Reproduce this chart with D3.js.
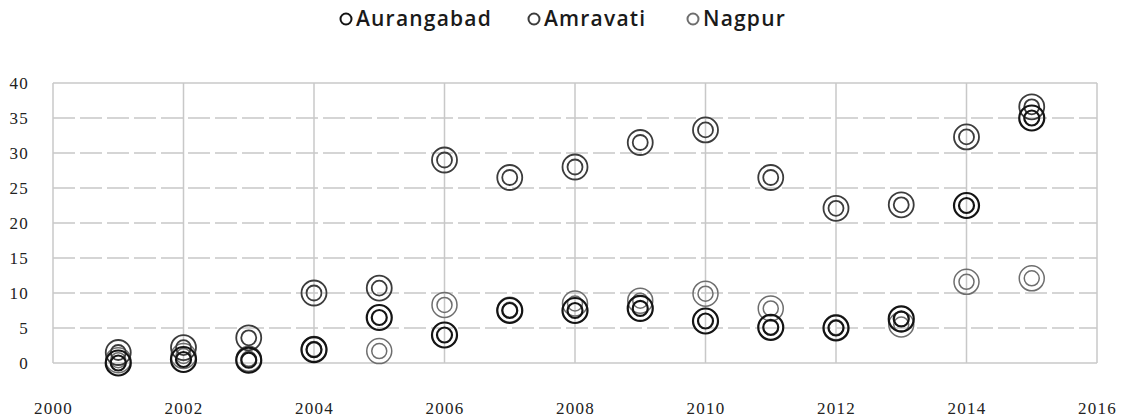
<!DOCTYPE html>
<html><head><meta charset="utf-8">
<script src="https://cdn.jsdelivr.net/npm/d3@7"></script>
<style>body{margin:0;background:#fff}</style>
</head><body><svg id="c" width="1135" height="418"></svg>
<script>
const years = [2001,2002,2003,2004,2005,2006,2007,2008,2009,2010,2011,2012,2013,2014,2015];
const seriesNames = ["Aurangabad","Amravati","Nagpur"];
const aurangabad = [0,0.5,0.4,1.9,6.5,4.0,7.5,7.5,7.8,6.0,5.1,5.0,6.3,22.5,35.0];
const amravati   = [1.5,2.2,3.6,10.0,10.7,29.0,26.5,28.0,31.5,33.3,26.5,22.1,22.6,32.3,36.6];
const nagpur     = [0.4,1.0,0.6,2.0,1.7,8.3,7.6,8.5,8.9,9.9,7.8,5.1,5.5,11.6,12.1];
const xTicks = [2000,2002,2004,2006,2008,2010,2012,2014,2016];
const yTicks = [0,5,10,15,20,25,30,35,40];

const colors = {Aurangabad:"#141414", Amravati:"#3c3c3c", Nagpur:"#6e6e6e"};
const widths = {Aurangabad:2.2, Amravati:1.8, Nagpur:1.5};
const data = {Aurangabad:aurangabad, Amravati:amravati, Nagpur:nagpur};

const svg = d3.select("#c");
const x = d3.scaleLinear().domain([2000,2016]).range([53,1097]);
const y = d3.scaleLinear().domain([0,40]).range([363,83]);
const grid = "#c8c8c8";

// horizontal gridlines
svg.append("g").selectAll("line").data(yTicks.filter(v=>v>0 && v<40)).join("line")
  .attr("x1",x(2000)).attr("x2",x(2016)).attr("y1",d=>y(d)).attr("y2",d=>y(d))
  .attr("stroke",grid).attr("stroke-width",1.5).attr("stroke-dasharray","22,5");
svg.append("line").attr("x1",x(2000)).attr("x2",x(2016)).attr("y1",y(40)).attr("y2",y(40))
  .attr("stroke",grid).attr("stroke-width",1.5);
// vertical gridlines
svg.append("g").selectAll("line").data(xTicks).join("line")
  .attr("x1",d=>x(d)).attr("x2",d=>x(d)).attr("y1",y(40)).attr("y2",y(0))
  .attr("stroke",grid).attr("stroke-width",1.5);
svg.append("line").attr("x1",x(2000)).attr("x2",x(2016)).attr("y1",y(0)).attr("y2",y(0))
  .attr("stroke",grid).attr("stroke-width",1.5);

// axes labels
const xAxis = d3.axisBottom(x).tickValues(xTicks).tickFormat(d3.format("d")).tickSize(0).tickPadding(51);
const gx = svg.append("g").attr("transform",`translate(0,${y(0)})`).call(xAxis);
gx.select(".domain").remove();
gx.selectAll("text").attr("font-family","Liberation Serif").attr("font-size",17)
  .attr("letter-spacing",1.2).attr("fill","#222").attr("dy","0");
const yAxis = d3.axisLeft(y).tickValues(yTicks).tickSize(0).tickPadding(24);
const gy = svg.append("g").attr("transform",`translate(${x(2000)},0)`).call(yAxis);
gy.select(".domain").remove();
gy.selectAll("text").attr("font-family","Liberation Serif").attr("font-size",17)
  .attr("letter-spacing",1.2).attr("fill","#222");

// markers
seriesNames.slice().reverse().forEach(name=>{
  const g = svg.append("g");
  const pts = years.map((yr,i)=>({yr, v:data[name][i]}));
  [12.5,7.5].forEach(r=>{
    g.selectAll(null).data(pts).join("circle")
      .attr("cx",d=>x(d.yr)).attr("cy",d=>y(d.v)).attr("r",r)
      .attr("fill","none").attr("stroke",colors[name]).attr("stroke-width",widths[name]);
  });
});

// legend
const legendX = [346, 534, 693];
const lg = svg.append("g");
seriesNames.forEach((name,i)=>{
  lg.append("circle").attr("cx",legendX[i]).attr("cy",19).attr("r",5.5)
    .attr("fill","none").attr("stroke",colors[name]).attr("stroke-width",2);
  lg.append("text").attr("x",legendX[i]+10).attr("y",26).text(name)
    .attr("font-family","Open Sans").attr("font-weight",600).attr("font-size",21)
    .attr("letter-spacing",1.2).attr("fill","#1a1a1a");
});
</script></body></html>
